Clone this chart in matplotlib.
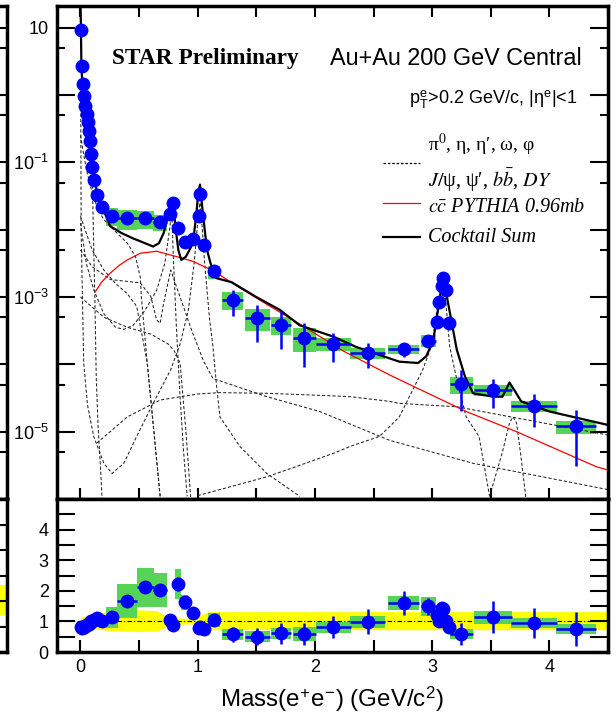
import matplotlib.pyplot as plt
import numpy as np
from matplotlib.ticker import FixedLocator, FuncFormatter, MultipleLocator, NullFormatter

plt.rcParams['font.family'] = ['Liberation Sans', 'DejaVu Sans']
plt.rcParams['mathtext.fontset'] = 'stix'

# measured e+e- yield (top panel) and data/cocktail ratio (bottom panel)
mass = [0.006, 0.011, 0.020, 0.028, 0.043, 0.057, 0.065, 0.074, 0.085, 0.094, 0.102, 0.116, 0.142, 0.187,
        0.27, 0.40, 0.555, 0.68, 0.763, 0.79, 0.83, 0.89, 0.96, 1.013, 1.02, 1.05, 1.14,
        1.30, 1.51, 1.71, 1.91, 2.156, 2.45, 2.757, 2.967, 3.04, 3.06, 3.085, 3.09, 3.115, 3.14,
        3.25, 3.52, 3.87, 4.23]
yld = [9.3, 2.7, 1.47, 0.98, 0.68, 0.53, 0.40, 0.29, 0.21, 0.133, 0.086, 0.054, 0.033, 0.0215,
       0.016, 0.0148, 0.0148, 0.0129, 0.017, 0.0248, 0.0107, 0.0066, 0.0072, 0.0158, 0.034, 0.0059, 0.0024,
       9.1e-4, 4.9e-4, 3.9e-4, 2.5e-4, 2.0e-4, 1.48e-4, 1.7e-4, 2.25e-4, 4.3e-4, 8.4e-4, 1.44e-3, 1.9e-3, 1.28e-3, 4.1e-4,
       5.1e-5, 4.2e-5, 2.4e-5, 1.2e-5]
half_bin = [0.003, 0.003, 0.004, 0.004, 0.005, 0.004, 0.004, 0.005, 0.005, 0.005, 0.005, 0.008, 0.015, 0.03,
            0.05, 0.085, 0.07, 0.06, 0.015, 0.015, 0.025, 0.03, 0.03, 0.008, 0.008, 0.025, 0.05,
            0.09, 0.11, 0.085, 0.10, 0.15, 0.15, 0.13, 0.065, 0.015, 0.015, 0.015, 0.015, 0.015, 0.015,
            0.095, 0.165, 0.195, 0.17]
stat_frac = [0.02, 0.02, 0.02, 0.02, 0.02, 0.02, 0.02, 0.03, 0.03, 0.03, 0.03, 0.04, 0.05, 0.06,
             0.06, 0.06, 0.06, 0.06, 0.08, 0.08, 0.1, 0.1, 0.1, 0.08, 0.06, 0.1, 0.15,
             0.42, 0.56, 0.57, 0.63, 0.45, 0.41, 0.24, 0.18, 0.15, 0.12, 0.1, 0.1, 0.1, 0.15,
             0.6, 0.46, 0.51, 0.74]
sys_frac = [0.08, 0.08, 0.08, 0.08, 0.08, 0.08, 0.08, 0.08, 0.08, 0.08, 0.08, 0.08, 0.12, 0.15,
            0.3, 0.33, 0.3, 0.27, 0.12, 0.12, 0.22, 0.15, 0.13, 0.1, 0.1, 0.15, 0.22,
            0.3, 0.37, 0.3, 0.4, 0.22, 0.2, 0.15, 0.2, 0.12, 0.12, 0.12, 0.12, 0.12, 0.12,
            0.28, 0.19, 0.17, 0.22]
ratio = [0.81, 0.80, 0.82, 0.83, 0.86, 0.88, 0.90, 0.93, 0.96, 1.0, 1.03, 1.06, 1.10, 1.0,
         1.14, 1.67, 2.12, 2.03, 1.05, 0.89, 2.23, 1.62, 1.27, 0.78, 0.82, 0.74, 1.05,
         0.58, 0.50, 0.61, 0.59, 0.81, 0.99, 1.60, 1.49, 1.21, 1.0, 1.43, 1.40, 1.0, 0.83,
         0.59, 1.14, 0.96, 0.75]

# cocktail sum and ccbar (log10 of yield)
sum_m = [0.0, 0.004, 0.008, 0.012, 0.02, 0.03, 0.045, 0.06, 0.075, 0.09, 0.105, 0.12, 0.14, 0.17, 0.2,
         0.255, 0.35, 0.45, 0.55, 0.62, 0.67, 0.71, 0.745, 0.77, 0.78, 0.79, 0.81, 0.835, 0.86, 0.9, 0.96,
         0.99, 1.005, 1.02, 1.035, 1.06, 1.08, 1.11, 1.16, 1.29, 1.5, 1.7, 1.87, 2.16, 2.35, 2.55, 2.72,
         2.88, 2.95, 3.01, 3.05, 3.09, 3.12, 3.21, 3.28, 3.35, 3.52, 3.60, 3.66, 3.70, 3.76, 4.0, 4.5]
sum_log = [1.5, 1.0, 0.5, 0.3, 0.15, -0.05, -0.17, -0.29, -0.5, -0.7, -0.95, -1.2, -1.45, -1.62, -1.72,
           -1.95, -2.05, -2.13, -2.2, -2.25, -2.2, -2.05, -1.8, -1.6, -1.55, -1.6, -1.95, -2.3, -2.45, -2.4, -2.2,
           -1.75, -1.45, -1.33, -1.6, -2.0, -2.3, -2.5, -2.72, -2.78, -3.0, -3.19, -3.42, -3.59, -3.74, -3.86, -3.96,
           -3.98, -3.88, -3.64, -3.19, -2.77, -2.94, -3.78, -4.18, -4.43, -4.48, -4.48, -4.27, -4.38, -4.55, -4.70, -4.90]
ccbar_m = [0.128, 0.18, 0.255, 0.33, 0.40, 0.51, 0.65, 0.82, 0.96, 1.02, 1.14, 1.3, 1.6, 1.87, 2.24,
           2.64, 3.29, 3.72, 4.4, 4.5]
ccbar_log = [-2.92, -2.78, -2.645, -2.53, -2.45, -2.35, -2.32, -2.40, -2.47, -2.52, -2.615, -2.80, -3.12,
             -3.40, -3.80, -4.16, -4.70, -5.0, -5.52, -5.57]

# individual cocktail components (log10)
pi0_m = [0.0, 0.01, 0.03, 0.06, 0.09, 0.1, 0.113, 0.125, 0.135, 0.15, 0.17, 0.185]
pi0_log = [1.2, 0.45, -0.05, -0.35, -0.75, -1.14, -2.22, -3.2, -4.2, -4.9, -5.5, -6.0]
eta_m = [0.0, 0.05, 0.1, 0.15, 0.2, 0.3, 0.4, 0.47, 0.51, 0.52, 0.57, 0.68]
eta_log = [-0.6, -1.1, -1.45, -1.7, -1.85, -2.03, -2.2, -2.4, -2.7, -3.0, -3.98, -5.96]
omegad_m = [0.0, 0.1, 0.2, 0.3, 0.4, 0.48, 0.57, 0.68]
omegad_log = [-1.8, -2.3, -2.6, -2.8, -2.95, -3.14, -3.98, -5.96]
etap_m = [0.0, 0.2, 0.4, 0.6, 0.75, 0.8, 0.85, 0.9, 0.94]
etap_log = [-3.0, -3.3, -3.45, -3.55, -3.7, -3.8, -3.98, -5.0, -5.97]
omega_m = [0.0, 0.05, 0.113, 0.2, 0.3, 0.37, 0.45, 0.55, 0.65, 0.72, 0.76, 0.78, 0.79, 0.82, 0.85, 0.88, 0.91]
omega_log = [-1.9, -2.5, -2.89, -3.25, -3.45, -3.48, -3.42, -3.2, -2.9, -2.5, -2.0, -1.7, -2.3, -3.5, -4.48,
             -5.3, -5.96]
phi_m = [0.003, 0.006, 0.028, 0.06, 0.113, 0.2, 0.27, 0.37, 0.48, 0.62, 0.77, 0.85, 0.92, 0.97, 1.0, 1.02,
         1.04, 1.06, 1.1, 1.13, 1.16, 1.19, 1.36, 1.59, 1.87]
phi_log = [-0.2, -2.0, -3.98, -4.6, -5.07, -5.47, -5.62, -5.47, -5.07, -4.58, -4.08, -3.7, -3.2, -2.5, -1.9, -1.6,
           -2.0, -2.5, -3.3, -3.73, -4.3, -4.78, -5.22, -5.62, -5.96]
rho_m = [0.0, 0.1, 0.255, 0.51, 0.6, 0.65, 0.68, 0.71, 0.77, 0.85, 0.95, 1.05, 1.13, 1.59, 2.04, 2.64, 3.35, 4.5]
rho_log = [-2.3, -2.55, -2.74, -2.79, -2.99, -3.34, -3.39, -3.09, -2.6, -3.0, -3.5, -3.95, -4.21, -4.48, -4.70,
           -5.13, -5.47, -5.86]
jpsi_m = [1.0, 1.59, 1.87, 2.16, 2.30, 2.55, 2.64, 2.72, 2.92, 3.0, 3.04, 3.07, 3.09, 3.11, 3.15, 3.22, 3.29,
          3.40, 3.49]
jpsi_log = [-5.95, -5.67, -5.5, -5.32, -5.22, -5.07, -4.92, -4.78, -4.08, -3.7, -3.2, -2.9, -2.8, -2.95, -3.74,
            -4.3, -4.78, -5.07, -5.96]
psip_m = [3.49, 3.60, 3.66, 3.69, 3.72, 3.76, 3.80]
psip_log = [-5.96, -5.3, -4.87, -4.78, -4.87, -5.4, -5.99]
bb_m = [0.14, 0.4, 0.68, 1.0, 1.19, 1.59, 2.04, 2.30, 2.64, 2.72, 3.21, 3.67, 4.5]
bb_log = [-5.17, -4.78, -4.53, -4.44, -4.42, -4.43, -4.46, -4.48, -4.55, -4.58, -4.63, -4.78, -5.05]

# cocktail systematic band in the ratio panel
band_m = [0.0, 0.1, 0.2, 0.3, 0.5, 0.65, 0.72, 0.8, 0.95, 1.05, 1.1, 4.5]
band_lo = [0.8, 0.78, 0.72, 0.7, 0.67, 0.68, 0.8, 0.9, 0.92, 0.78, 0.73, 0.73]
band_hi = [1.15, 1.2, 1.3, 1.35, 1.38, 1.35, 1.2, 1.12, 1.1, 1.25, 1.32, 1.32]

blue = '#0000ff'
green = '#55d455'

m = np.array(mass)
y = np.array(yld)
hb = np.array(half_bin)
r = np.array(ratio)

fig = plt.figure(figsize=(6.16, 7.14), dpi=100)
ax = fig.add_axes([0.0925, 0.3011, 0.8945, 0.6905])
ax2 = fig.add_axes([0.0925, 0.0868, 0.8945, 0.2143])
axl = fig.add_axes([-0.2886, 0.3011, 0.3, 0.6905])
axl2 = fig.add_axes([-0.2886, 0.0868, 0.3, 0.2143])

# ---- top panel
ax.bar(m, y * (2 * np.array(sys_frac)), bottom=y * (1 - np.array(sys_frac)), width=2 * hb,
       color=green, lw=0, zorder=1)
comps = [(pi0_m, pi0_log), (eta_m, eta_log), (omegad_m, omegad_log), (etap_m, etap_log),
         (omega_m, omega_log), (phi_m, phi_log), (rho_m, rho_log), (jpsi_m, jpsi_log),
         (psip_m, psip_log), (bb_m, bb_log)]
for cm, cl in comps:
    ax.plot(cm, 10.0 ** np.array(cl), color='#222222', lw=0.75, dashes=(3, 2), zorder=2)
ax.plot(ccbar_m, 10.0 ** np.array(ccbar_log), color='red', lw=0.9, zorder=3)
ax.plot(sum_m, 10.0 ** np.array(sum_log), color='k', lw=1.6, zorder=3)
ax.errorbar(m, y, xerr=hb, yerr=y * np.array(stat_frac), fmt='o', color=blue, ms=9,
            elinewidth=1.8, capsize=0, zorder=4)

ax.set_xlim(-0.2, 4.5)
ax.set_yscale('log')
ax.set_ylim(1e-6, 21)


def logfmt(v, pos):
    e = int(round(np.log10(v)))
    if e == 1:
        return '10'
    if e in (-1, -3, -5):
        return r'$\mathdefault{10^{%d}}$' % e
    return ''


ax.yaxis.set_major_locator(FixedLocator([10.0 ** e for e in range(-6, 2)]))
ax.yaxis.set_minor_locator(FixedLocator([5 * 10.0 ** e for e in range(-6, 1)]))
ax.yaxis.set_major_formatter(FuncFormatter(logfmt))
ax.yaxis.set_minor_formatter(NullFormatter())
ax.xaxis.set_major_locator(MultipleLocator(0.5))
ax.tick_params(axis='y', which='major', direction='in', length=13, width=1.5, left=True, right=True,
               labelsize=13, pad=6)
ax.tick_params(axis='y', which='minor', direction='in', length=6, width=1.5, left=True, right=True)
ax.tick_params(axis='x', direction='in', length=8, width=1.5, top=True, bottom=True, labelbottom=False)

ax.text(0.0998, 0.8945, 'STAR Preliminary', transform=ax.transAxes, family='Liberation Serif',
        weight='bold', fontsize=16.8, va='center', ha='left')
ax.text(0.953, 0.8945, 'Au+Au 200 GeV Central', transform=ax.transAxes, fontsize=16.8, va='center', ha='right')
ax.text(0.944, 0.809, r'p$_\mathdefault{T}^\mathdefault{e}$>0.2 GeV/c, |η$^\mathdefault{e}$|<1',
        transform=ax.transAxes, fontsize=13, va='center', ha='right')

# legend drawn by hand
lx = 0.673
ax.text(lx, 0.718, r'π$^{\mathit{0}}$, η, η′, ω, φ', transform=ax.transAxes, family='Liberation Serif',
        fontsize=14, va='center')
ax.text(lx, 0.647, r'$J/$ψ, ψ′, $b\bar{b}$, $DY$', transform=ax.transAxes, family='Liberation Serif',
        fontsize=14.5, va='center')
ax.text(lx, 0.592, r'$c\bar{c}$ PYTHIA 0.96mb', transform=ax.transAxes, family='Liberation Serif',
        style='italic', fontsize=14.5, va='center')
ax.text(lx, 0.531, 'Cocktail Sum', transform=ax.transAxes, family='Liberation Serif',
        style='italic', fontsize=14.5, va='center')
ax.plot([0.592, 0.659], [0.682, 0.682], transform=ax.transAxes, color='k', lw=0.9, dashes=(2, 1.5))
ax.plot([0.592, 0.659], [0.600, 0.600], transform=ax.transAxes, color='red', lw=0.9)
ax.plot([0.592, 0.659], [0.531, 0.531], transform=ax.transAxes, color='k', lw=1.6)

# ---- ratio panel
ax2.fill_between(band_m, band_lo, band_hi, color='#ffff00', lw=0, zorder=1)
ax2.axhline(1, color='k', lw=0.8, dashes=(4, 2, 1, 2), zorder=2)
ax2.bar(m, r * (2 * np.array(sys_frac)), bottom=r * (1 - np.array(sys_frac)), width=2 * hb,
        color=green, lw=0, zorder=3)
ax2.errorbar(m, r, xerr=hb, yerr=r * np.array(stat_frac), fmt='o', color=blue, ms=9,
             elinewidth=1.8, capsize=0, zorder=4)
ax2.set_xlim(-0.2, 4.5)
ax2.set_ylim(0, 5)
ax2.xaxis.set_major_locator(MultipleLocator(0.5))
ax2.yaxis.set_major_locator(MultipleLocator(0.5))
ax2.xaxis.set_major_formatter(FuncFormatter(lambda v, pos: '%d' % round(v) if abs(v - round(v)) < 1e-6 else ''))
ax2.yaxis.set_major_formatter(FuncFormatter(
    lambda v, pos: '%d' % round(v) if abs(v - round(v)) < 1e-6 and v < 4.5 else ''))
ax2.tick_params(axis='y', direction='in', length=13, width=1.5, left=True, right=True, labelsize=13, pad=6)
ax2.tick_params(axis='x', direction='in', length=9, width=1.5, top=False, bottom=True, labelsize=13, pad=5)
ax2.set_xlabel(r'Mass(e$^\mathdefault{+}$e$^\mathdefault{-}$) (GeV/c$^\mathdefault{2}$)', fontsize=17.4,
               labelpad=6)

# ---- neighbouring panel, cut off at the left edge
axl.set_xlim(-0.2, 4.5)
axl.set_yscale('log')
axl.set_ylim(1e-6, 21)
axl.yaxis.set_major_locator(FixedLocator([10.0 ** e for e in range(-6, 2)]))
axl.yaxis.set_minor_locator(FixedLocator([5 * 10.0 ** e for e in range(-6, 1)]))
axl.tick_params(axis='y', which='both', direction='in', length=13, width=1.5, left=False, right=True,
                labelleft=False)
axl.tick_params(axis='x', which='both', bottom=False, top=False, labelbottom=False)
axl2.fill_between([3.5, 4.5], [0.73, 0.73], [1.32, 1.32], color='#ffff00', lw=0)
axl2.axhline(1, color='k', lw=0.8, dashes=(4, 2, 1, 2))
axl2.set_xlim(-0.2, 4.5)
axl2.set_ylim(0, 3)
axl2.yaxis.set_major_locator(MultipleLocator(0.5))
axl2.tick_params(axis='y', direction='in', length=13, width=1.5, left=False, right=True, labelleft=False)
axl2.tick_params(axis='x', bottom=False, labelbottom=False)

for a in (ax, ax2, axl, axl2):
    for s in a.spines.values():
        s.set_linewidth(2.5)

fig.savefig('out.png', dpi=100)
